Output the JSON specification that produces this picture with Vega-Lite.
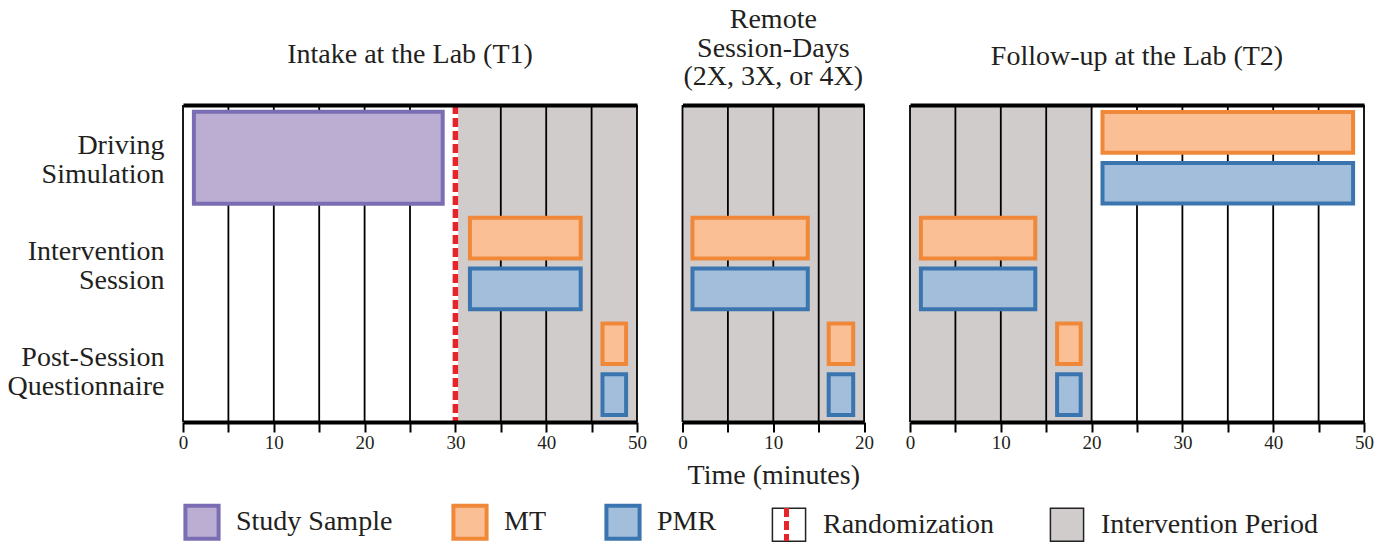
{
  "$schema": "https://vega.github.io/schema/vega-lite/v6.json",
  "padding": {"left": 6, "top": 6, "right": 0, "bottom": 0},
  "background": "white",
  "config": {
    "font": "Liberation Serif",
    "view": {"stroke": null},
    "axis": {"labelFont": "Liberation Serif", "titleFont": "Liberation Serif", "labelColor": "#231f20", "titleColor": "#231f20", "minExtent": 0},
    "legend": {
      "orient": "bottom", "direction": "horizontal", "title": null,
      "symbolType": "square", "symbolSize": 1100, "symbolStrokeWidth": 4,
      "labelFont": "Liberation Serif", "labelFontSize": 28, "labelColor": "#231f20", "labelLimit": 500,
      "labelOffset": 20, "columnPadding": 52, "offset": 14, "padding": 5
    }
  },
  "datasets": {
    "bars": [
      {"panel": "T1", "task": "Driving Simulation", "cat": "Study Sample", "start": 1.2, "end": 28.6},
      {"panel": "T1", "task": "Intervention Session", "cat": "MT", "start": 31.6, "end": 43.8},
      {"panel": "T1", "task": "Intervention Session", "cat": "PMR", "start": 31.6, "end": 43.8},
      {"panel": "T1", "task": "Post-Session Questionnaire", "cat": "MT", "start": 46.2, "end": 48.8},
      {"panel": "T1", "task": "Post-Session Questionnaire", "cat": "PMR", "start": 46.2, "end": 48.8},
      {"panel": "R", "task": "Intervention Session", "cat": "MT", "start": 1.1, "end": 13.8},
      {"panel": "R", "task": "Intervention Session", "cat": "PMR", "start": 1.1, "end": 13.8},
      {"panel": "R", "task": "Post-Session Questionnaire", "cat": "MT", "start": 16.1, "end": 18.8},
      {"panel": "R", "task": "Post-Session Questionnaire", "cat": "PMR", "start": 16.1, "end": 18.8},
      {"panel": "T2", "task": "Driving Simulation", "cat": "MT", "start": 21.2, "end": 48.8},
      {"panel": "T2", "task": "Driving Simulation", "cat": "PMR", "start": 21.2, "end": 48.8},
      {"panel": "T2", "task": "Intervention Session", "cat": "MT", "start": 1.2, "end": 13.8},
      {"panel": "T2", "task": "Intervention Session", "cat": "PMR", "start": 1.2, "end": 13.8},
      {"panel": "T2", "task": "Post-Session Questionnaire", "cat": "MT", "start": 16.2, "end": 18.8},
      {"panel": "T2", "task": "Post-Session Questionnaire", "cat": "PMR", "start": 16.2, "end": 18.8}
    ],
    "periods": [
      {"panel": "T1", "cat": "Intervention Period", "start": 30, "end": 50},
      {"panel": "R", "cat": "Intervention Period", "start": 0, "end": 20},
      {"panel": "T2", "cat": "Intervention Period", "start": 0, "end": 20}
    ],
    "grid50": [{"t": 0}, {"t": 5}, {"t": 10}, {"t": 15}, {"t": 20}, {"t": 25}, {"t": 30}, {"t": 35}, {"t": 40}, {"t": 45}, {"t": 50}],
    "grid20": [{"t": 0}, {"t": 5}, {"t": 10}, {"t": 15}, {"t": 20}],
    "rand": [{"t": 30, "rcat": "Randomization"}]
  },
  "spacing": 45.5,
  "bounds": "flush",
  "resolve": {"scale": {"fill": "shared", "stroke": "shared", "strokeDash": "shared"}},
  "hconcat": [
    {
      "width": 454, "height": 317,
      "title": {"text": "Intake at the Lab (T1)", "font": "Liberation Serif", "fontSize": 28, "fontWeight": "normal", "color": "#231f20", "anchor": "middle", "baseline": "bottom", "offset": 5},
      "resolve": {"axis": {"x": "independent"}},
      "layer": [
        {
          "data": {"name": "periods"},
          "transform": [{"filter": "datum.panel === 'T1'"}],
          "mark": {"type": "rect"},
          "encoding": {
            "x": {"field": "start", "type": "quantitative", "scale": {"domain": [0, 50], "nice": false, "zero": false},
                  "axis": {"orient": "top", "labels": false, "ticks": false, "grid": false, "title": null, "domainWidth": 4, "domainColor": "black", "zindex": 1, "minExtent": 0, "maxExtent": 0}},
            "x2": {"field": "end"},
            "fill": {"field": "cat", "type": "nominal",
                     "scale": {"domain": ["Study Sample", "MT", "PMR", "Randomization", "Intervention Period"], "range": ["#bcaed3", "#fbbf95", "#a2bedb", "#ffffff", "#d0cccb"]},
                     "legend": {"encode": {"symbols": {"update": {"strokeWidth": {"signal": "indexof(['Randomization','Intervention Period'], datum.value) >= 0 ? 1.5 : 4"}}}}}}
          }
        },
        {
          "data": {"name": "grid50"},
          "mark": {"type": "rule", "color": "black", "strokeWidth": 1.8},
          "encoding": {
            "x": {"field": "t", "type": "quantitative", "scale": {"domain": [0, 50], "nice": false, "zero": false},
                  "axis": {"orient": "bottom", "values": [0, 5, 10, 15, 20, 25, 30, 35, 40, 45, 50], "labelExpr": "datum.value % 10 === 0 ? datum.label : ''",
                           "grid": false, "title": null, "domainWidth": 4, "domainColor": "black", "tickColor": "black", "tickWidth": 2, "tickSize": 10,
                           "labelFontSize": 19, "labelPadding": 1, "labelFlush": false, "labelOverlap": false, "zindex": 1}}
          }
        },
        {
          "data": {"name": "rand"},
          "mark": {"type": "rule", "color": "white", "strokeWidth": 5.5},
          "encoding": {"x": {"field": "t", "type": "quantitative", "axis": null}}
        },
        {
          "data": {"name": "rand"},
          "mark": {"type": "rule", "color": "#e8242b", "strokeWidth": 5.5},
          "encoding": {
            "x": {"field": "t", "type": "quantitative", "axis": null},
            "strokeDash": {"field": "rcat", "type": "nominal", "scale": {"domain": ["Randomization"], "range": [[9, 4]]},
                           "legend": {"orient": "none", "legendX": 584, "legendY": 400, "zindex": 2, "symbolType": "M0,-1L0,1", "symbolSize": 1100,
                                      "symbolStrokeColor": "#e8242b", "symbolStrokeWidth": 5, "symbolFillColor": "transparent", "labelExpr": "''", "labelOffset": 0, "padding": 0}}
          }
        },
        {
          "data": {"name": "bars"},
          "transform": [{"filter": "datum.panel === 'T1' && datum.cat === 'Study Sample'"}],
          "mark": {"type": "bar", "strokeWidth": 4, "height": {"band": 0.87}},
          "encoding": {
            "x": {"field": "start", "type": "quantitative", "axis": null},
            "x2": {"field": "end"},
            "y": {"field": "task", "type": "nominal", "scale": {"domain": ["Driving Simulation", "Intervention Session", "Post-Session Questionnaire"], "paddingInner": 0, "paddingOuter": 0},
                  "axis": {"title": null, "domain": false, "ticks": false, "labelExpr": "split(datum.label, ' ')", "labelFontSize": 28, "labelLineHeight": 29, "labelPadding": 19, "labelAlign": "right", "labelBaseline": "middle", "labelOffset": -11.5}},
            "fill": {"field": "cat", "type": "nominal"},
            "stroke": {"field": "cat", "type": "nominal",
                       "scale": {"domain": ["Study Sample", "MT", "PMR", "Randomization", "Intervention Period"], "range": ["#7a6db3", "#f0883a", "#3b75b0", "#222222", "#222222"]}}
          }
        },
        {
          "data": {"name": "bars"},
          "transform": [{"filter": "datum.panel === 'T1' && datum.cat !== 'Study Sample'"}],
          "mark": {"type": "bar", "strokeWidth": 4},
          "encoding": {
            "x": {"field": "start", "type": "quantitative", "axis": null},
            "x2": {"field": "end"},
            "y": {"field": "task", "type": "nominal"},
            "yOffset": {"field": "cat", "type": "nominal", "scale": {"domain": ["MT", "PMR"], "paddingInner": 0.2, "paddingOuter": 0.14}},
            "fill": {"field": "cat", "type": "nominal"},
            "stroke": {"field": "cat", "type": "nominal"}
          }
        }
      ]
    },
    {
      "width": 181.6, "height": 317,
      "title": {"text": ["Remote", "Session-Days", "(2X, 3X, or 4X)"], "lineHeight": 28.5, "font": "Liberation Serif", "fontSize": 28, "fontWeight": "normal", "color": "#231f20", "anchor": "middle", "baseline": "bottom", "offset": -15},
      "resolve": {"axis": {"x": "independent"}},
      "layer": [
        {
          "data": {"name": "periods"},
          "transform": [{"filter": "datum.panel === 'R'"}],
          "mark": {"type": "rect"},
          "encoding": {
            "x": {"field": "start", "type": "quantitative", "scale": {"domain": [0, 20], "nice": false, "zero": false},
                  "axis": {"orient": "top", "labels": false, "ticks": false, "grid": false, "title": null, "domainWidth": 4, "domainColor": "black", "zindex": 1, "minExtent": 0, "maxExtent": 0}},
            "x2": {"field": "end"},
            "fill": {"field": "cat", "type": "nominal"}
          }
        },
        {
          "data": {"name": "grid20"},
          "mark": {"type": "rule", "color": "black", "strokeWidth": 1.8},
          "encoding": {
            "x": {"field": "t", "type": "quantitative", "scale": {"domain": [0, 20], "nice": false, "zero": false},
                  "axis": {"orient": "bottom", "values": [0, 5, 10, 15, 20], "labelExpr": "datum.value % 10 === 0 ? datum.label : ''",
                           "grid": false, "title": "Time (minutes)", "titleFontSize": 28, "titleFontWeight": "normal", "titlePadding": 9,
                           "domainWidth": 4, "domainColor": "black", "tickColor": "black", "tickWidth": 2, "tickSize": 10,
                           "labelFontSize": 19, "labelPadding": 1, "labelFlush": false, "labelOverlap": false, "zindex": 1}}
          }
        },
        {
          "data": {"name": "bars"},
          "transform": [{"filter": "datum.panel === 'R'"}],
          "mark": {"type": "bar", "strokeWidth": 4},
          "encoding": {
            "x": {"field": "start", "type": "quantitative", "axis": null},
            "x2": {"field": "end"},
            "y": {"field": "task", "type": "nominal", "scale": {"domain": ["Driving Simulation", "Intervention Session", "Post-Session Questionnaire"], "paddingInner": 0, "paddingOuter": 0}, "axis": null},
            "yOffset": {"field": "cat", "type": "nominal", "scale": {"domain": ["MT", "PMR"], "paddingInner": 0.2, "paddingOuter": 0.14}},
            "fill": {"field": "cat", "type": "nominal"},
            "stroke": {"field": "cat", "type": "nominal"}
          }
        }
      ]
    },
    {
      "width": 454, "height": 317,
      "title": {"text": "Follow-up at the Lab (T2)", "font": "Liberation Serif", "fontSize": 28, "fontWeight": "normal", "color": "#231f20", "anchor": "middle", "baseline": "bottom", "offset": 5},
      "resolve": {"axis": {"x": "independent"}},
      "layer": [
        {
          "data": {"name": "periods"},
          "transform": [{"filter": "datum.panel === 'T2'"}],
          "mark": {"type": "rect"},
          "encoding": {
            "x": {"field": "start", "type": "quantitative", "scale": {"domain": [0, 50], "nice": false, "zero": false},
                  "axis": {"orient": "top", "labels": false, "ticks": false, "grid": false, "title": null, "domainWidth": 4, "domainColor": "black", "zindex": 1, "minExtent": 0, "maxExtent": 0}},
            "x2": {"field": "end"},
            "fill": {"field": "cat", "type": "nominal"}
          }
        },
        {
          "data": {"name": "grid50"},
          "mark": {"type": "rule", "color": "black", "strokeWidth": 1.8},
          "encoding": {
            "x": {"field": "t", "type": "quantitative", "scale": {"domain": [0, 50], "nice": false, "zero": false},
                  "axis": {"orient": "bottom", "values": [0, 5, 10, 15, 20, 25, 30, 35, 40, 45, 50], "labelExpr": "datum.value % 10 === 0 ? datum.label : ''",
                           "grid": false, "title": null, "domainWidth": 4, "domainColor": "black", "tickColor": "black", "tickWidth": 2, "tickSize": 10,
                           "labelFontSize": 19, "labelPadding": 1, "labelFlush": false, "labelOverlap": false, "zindex": 1}}
          }
        },
        {
          "data": {"name": "bars"},
          "transform": [{"filter": "datum.panel === 'T2'"}],
          "mark": {"type": "bar", "strokeWidth": 4},
          "encoding": {
            "x": {"field": "start", "type": "quantitative", "axis": null},
            "x2": {"field": "end"},
            "y": {"field": "task", "type": "nominal", "scale": {"domain": ["Driving Simulation", "Intervention Session", "Post-Session Questionnaire"], "paddingInner": 0, "paddingOuter": 0}, "axis": null},
            "yOffset": {"field": "cat", "type": "nominal", "scale": {"domain": ["MT", "PMR"], "paddingInner": 0.2, "paddingOuter": 0.14}},
            "fill": {"field": "cat", "type": "nominal"},
            "stroke": {"field": "cat", "type": "nominal"}
          }
        }
      ]
    }
  ]
}
